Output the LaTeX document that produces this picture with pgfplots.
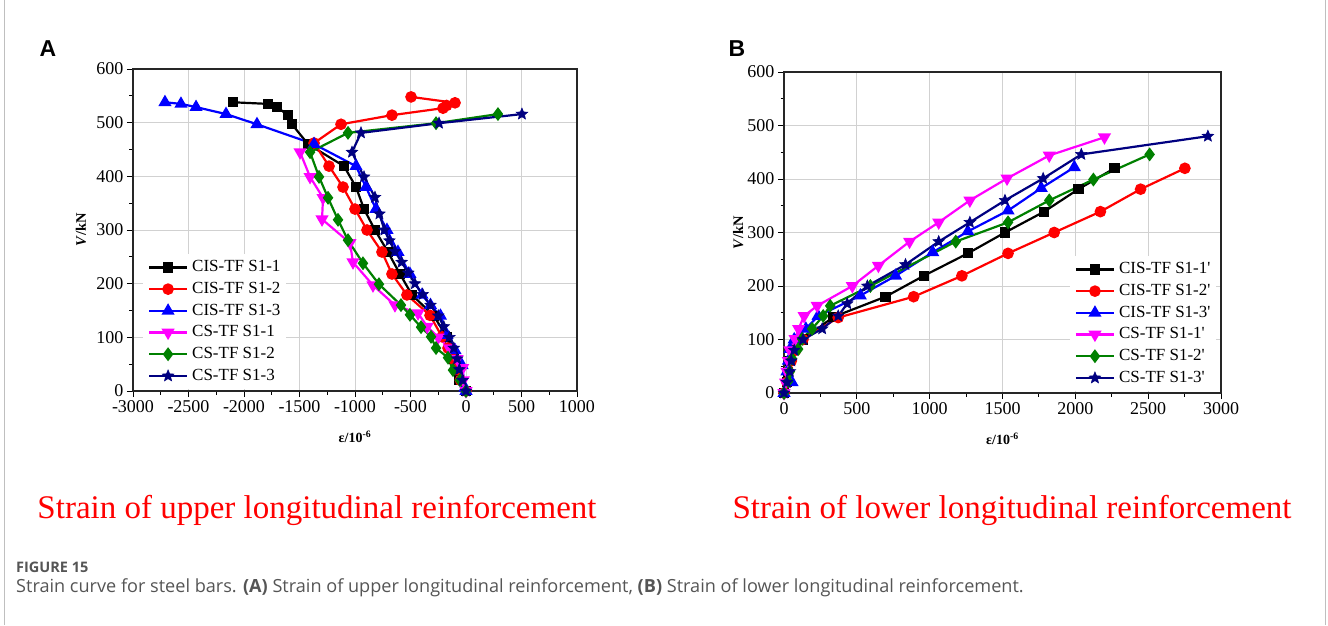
\documentclass[border=0pt]{standalone}
\usepackage{fontspec}
\setmainfont{Liberation Serif}
\newfontfamily\arialfont{Liberation Sans}
\newfontfamily\capfont{Open Sans}
\usepackage{pgfplots}
\pgfplotsset{compat=1.18}
\definecolor{navyc}{RGB}{0,0,128}
\definecolor{greenc}{RGB}{0,128,0}
\definecolor{magc}{RGB}{255,0,255}
\definecolor{redc}{RGB}{255,0,0}
\definecolor{bluec}{RGB}{0,0,255}
\definecolor{capgray}{RGB}{85,85,85}
\pgfdeclareplotmark{fstar}{%
  \pgfpathmoveto{\pgfpointpolar{90}{\pgfplotmarksize}}%
  \pgfpathlineto{\pgfpointpolar{126}{0.45\pgfplotmarksize}}%
  \pgfpathlineto{\pgfpointpolar{162}{\pgfplotmarksize}}%
  \pgfpathlineto{\pgfpointpolar{198}{0.45\pgfplotmarksize}}%
  \pgfpathlineto{\pgfpointpolar{234}{\pgfplotmarksize}}%
  \pgfpathlineto{\pgfpointpolar{270}{0.45\pgfplotmarksize}}%
  \pgfpathlineto{\pgfpointpolar{306}{\pgfplotmarksize}}%
  \pgfpathlineto{\pgfpointpolar{342}{0.45\pgfplotmarksize}}%
  \pgfpathlineto{\pgfpointpolar{18}{\pgfplotmarksize}}%
  \pgfpathlineto{\pgfpointpolar{54}{0.45\pgfplotmarksize}}%
  \pgfpathclose\pgfusepathqfillstroke}
\pgfplotsset{
  common/.style={
    scale only axis,
    axis line style={line width=1.4pt, black!85},
    every tick/.style={line width=1pt, black},
    major tick length=6pt, minor tick length=3.5pt,
    tick align=outside, xtick pos=bottom, ytick pos=left,
    grid=major, major grid style={black!18, line width=0.9pt},
    minor x tick num=1, minor y tick num=1,
    ymin=0, ymax=600, ytick={0,100,...,600},
    yticklabels={0,100,200,300,400,500,600},
    tick label style={font=\fontsize{18}{20}\selectfont},
    legend cell align=left,
    legend style={draw=none, fill=white, font=\fontsize{17}{19}\selectfont,
      row sep=3.2pt, column sep=3pt, inner xsep=5pt, inner ysep=4pt,
      nodes={inner sep=1pt, text height=12.5pt, text depth=4pt}},
    legend image code/.code={\draw[mark repeat=2,mark phase=2,##1] plot coordinates {(0pt,0pt) (19pt,0pt) (38pt,0pt)};},
    every axis plot/.append style={line width=2.2pt},
    xlabel style={at={(rel axis cs:0.5,-0.143)}, anchor=center, font=\fontsize{14}{16}\selectfont},
    ylabel style={font=\fontsize{14.5}{16}\selectfont},
  },
  s1/.style={black, mark=square*, mark size=4pt, mark options={solid, fill=black}},
  s2/.style={redc, mark=*, mark size=4.7pt, mark options={solid, fill=redc}},
  s3/.style={bluec, mark=triangle*, mark size=5.4pt, mark options={solid, fill=bluec}},
  s4/.style={magc, mark=triangle*, mark size=5.4pt, mark options={solid, fill=magc, rotate=180}},
  s5/.style={greenc, mark=diamond*, mark size=5.2pt, mark options={solid, fill=greenc}},
  s6/.style={navyc, mark=fstar, mark size=6pt, mark options={solid, fill=navyc, line width=0.6pt}},
}
\begin{document}
\begin{tikzpicture}[x=1pt,y=1pt]
\path[use as bounding box] (0,0) rectangle (1328,625);
\draw[black!25, line width=1pt] (4,0) -- (4,625);
\draw[black!25, line width=1pt] (1325,0) -- (1325,625);
\node[font=\arialfont\bfseries\fontsize{23}{26}\selectfont] at (48,576) {A};
\node[font=\arialfont\bfseries\fontsize{23}{26}\selectfont] at (737,576) {B};

\begin{axis}[common, at={(133pt,234pt)}, anchor=south west, width=444pt, height=322pt,
  xmin=-3000, xmax=1000, xtick={-3000,-2500,...,1000},
  xticklabels={-3000,-2500,-2000,-1500,-1000,-500,0,500,1000},
  xlabel={\textbf{ε/10\textsuperscript{-6}}},
  ylabel={\textbf{\textit{V}/kN}},
  ylabel style={at={(rel axis cs:-0.117,0.5)}, anchor=center, rotate=0},
  legend style={at={(0.022,0.005)}, anchor=south west}]
\addplot[s1] coordinates {(0,0) (-60,20) (-110,60) (-170,100) (-290,140) (-486,179) (-595,218) (-703,259) (-820,300) (-919,339) (-991,380) (-1099,419) (-1423,460) (-1568,497) (-1604,514) (-1703,529) (-1784,535) (-2099,538)};
\addplot[s2] coordinates {(0,0) (-50,20) (-90,40) (-120,60) (-162,80) (-216,101) (-324,141) (-532,179) (-667,218) (-757,259) (-892,300) (-1000,339) (-1108,380) (-1234,419) (-1369,462) (-1126,497) (-667,514) (-207,527) (-175,532) (-99,537) (-495,548)};
\addplot[s3] coordinates {(0,0) (-9,6) (-36,48) (-99,76) (-171,104) (-230,140) (-320,160) (-396,179) (-505,218) (-613,259) (-712,300) (-811,339) (-901,380) (-991,419) (-1369,460) (-1883,497) (-2162,516) (-2432,529) (-2568,535) (-2712,538)};
\addplot[s4] coordinates {(0,0) (-25,20) (-30,43) (-80,60) (-150,80) (-250,100) (-350,120) (-432,145) (-640,160) (-838,197) (-1018,240) (-1045,276) (-1297,320) (-1288,360) (-1405,399) (-1495,445)};
\addplot[s5] coordinates {(0,0) (-54,20) (-117,39) (-162,62) (-270,80) (-315,101) (-405,119) (-505,142) (-586,160) (-784,199) (-928,238) (-1063,281) (-1153,319) (-1243,360) (-1324,399) (-1405,445) (-1063,481) (-270,499) (288,516)};
\addplot[s6] coordinates {(0,0) (-30,20) (-60,40) (-80,60) (-110,80) (-150,100) (-200,120) (-250,140) (-320,160) (-390,180) (-460,200) (-520,220) (-580,240) (-640,260) (-690,280) (-735,300) (-780,330) (-820,361) (-919,399) (-1027,445) (-946,481) (-243,499) (504,516)};
\legend{CIS-TF S1-1, CIS-TF S1-2, CIS-TF S1-3, CS-TF S1-1, CS-TF S1-2, CS-TF S1-3}
\end{axis}

\begin{axis}[common, at={(784pt,232pt)}, anchor=south west, width=437pt, height=321pt,
  xmin=0, xmax=3000, xtick={0,500,...,3000},
  xticklabels={0,500,1000,1500,2000,2500,3000},
  xlabel={\textbf{ε/10\textsuperscript{-6}}},
  ylabel={\textbf{\textit{V}/kN}},
  ylabel style={at={(rel axis cs:-0.105,0.5)}, anchor=center, rotate=0},
  legend style={at={(0.99,0.005)}, anchor=south east}]
\addplot[s1] coordinates {(0,0) (20,20) (30,40) (40,60) (70,80) (131,100) (338,142) (697,180) (959,219) (1262,261) (1517,300) (1786,339) (2021,381) (2269,420)};
\addplot[s2] coordinates {(0,0) (20,20) (30,40) (50,60) (80,80) (130,100) (372,141) (890,180) (1221,219) (1538,261) (1855,300) (2172,339) (2448,381) (2752,420)};
\addplot[s3] coordinates {(0,0) (55,20) (20,40) (30,60) (41,82) (70,100) (150,120) (234,144) (524,182) (766,219) (1021,263) (1262,302) (1538,341) (1766,383) (1993,422)};
\addplot[s4] coordinates {(0,0) (10,20) (20,40) (30,60) (40,80) (76,101) (100,120) (138,144) (228,163) (469,200) (648,238) (862,283) (1062,319) (1276,360) (1531,401) (1821,444) (2200,478)};
\addplot[s5] coordinates {(0,0) (28,22) (40,40) (55,64) (97,82) (124,101) (193,120) (269,144) (317,163) (593,200) (1179,283) (1538,319) (1821,360) (2124,399) (2510,446)};
\addplot[s6] coordinates {(0,0) (20,20) (40,40) (50,60) (70,80) (131,100) (262,120) (372,144) (434,167) (572,200) (834,240) (1062,283) (1276,319) (1517,360) (1779,401) (2041,446) (2910,480)};
\legend{CIS-TF S1-1\textquotesingle, CIS-TF S1-2\textquotesingle, CIS-TF S1-3\textquotesingle, CS-TF S1-1\textquotesingle, CS-TF S1-2\textquotesingle, CS-TF S1-3\textquotesingle}
\end{axis}

\node[text=redc, font=\fontsize{33}{36}\selectfont] at (317,115) {Strain of upper longitudinal reinforcement};
\node[text=redc, font=\fontsize{33}{36}\selectfont] at (1012,115) {Strain of lower longitudinal reinforcement};
\node[anchor=west, inner sep=0pt, text=capgray, font=\capfont\bfseries\fontsize{14.5}{16}\selectfont] at (16,58) {FIGURE 15};
\node[anchor=west, inner sep=0pt, text=capgray, font=\capfont\fontsize{18.1}{20}\selectfont] at (16,37) {Strain curve for steel bars. \textbf{(A)} Strain of upper longitudinal reinforcement, \textbf{(B)} Strain of lower longitudinal reinforcement.};
\end{tikzpicture}
\end{document}
